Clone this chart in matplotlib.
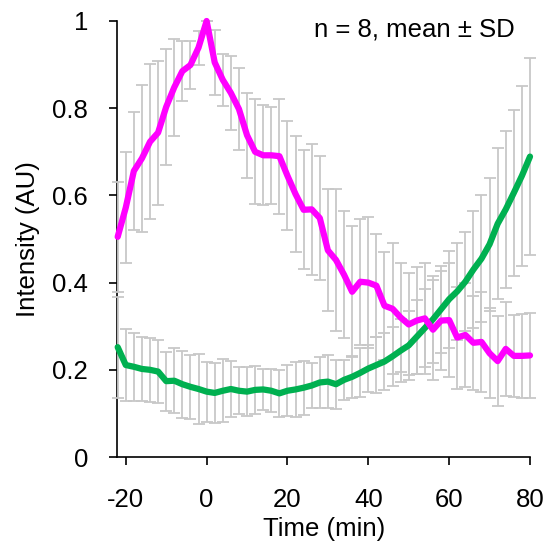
import numpy as np
import matplotlib
matplotlib.use("Agg")
import matplotlib.pyplot as plt

plt.rcParams['font.family'] = ['Liberation Sans', 'DejaVu Sans']
plt.rcParams['axes.unicode_minus'] = False

# time points (min), 2-min interval
time_min = list(range(-22, 82, 2))

# magenta series, mean and SD
magenta_mean = [0.505, 0.572, 0.656, 0.685, 0.723, 0.744, 0.803, 0.848, 0.885, 0.899,
                0.939, 1.000, 0.905, 0.865, 0.835, 0.798, 0.738, 0.700, 0.692, 0.692,
                0.690, 0.645, 0.603, 0.567, 0.568, 0.548, 0.474, 0.452, 0.418, 0.379,
                0.402, 0.400, 0.393, 0.347, 0.340, 0.320, 0.304, 0.313, 0.318, 0.292,
                0.313, 0.314, 0.274, 0.280, 0.262, 0.264, 0.238, 0.220, 0.248, 0.232,
                0.232, 0.233]
magenta_sd = [0.126, 0.128, 0.135, 0.168, 0.178, 0.165, 0.133, 0.111, 0.068, 0.054,
              0.039, 0.000, 0.075, 0.060, 0.085, 0.095, 0.097, 0.120, 0.115, 0.111,
              0.132, 0.125, 0.133, 0.136, 0.150, 0.143, 0.140, 0.162, 0.146, 0.150,
              0.145, 0.151, 0.118, 0.124, 0.150, 0.124, 0.117, 0.122, 0.128, 0.115,
              0.113, 0.130, 0.117, 0.119, 0.108, 0.114, 0.103, 0.103, 0.108, 0.094,
              0.097, 0.098]

# green series, mean and SD
green_mean = [0.252, 0.211, 0.207, 0.202, 0.200, 0.196, 0.174, 0.175, 0.167, 0.161,
              0.156, 0.150, 0.147, 0.152, 0.156, 0.152, 0.150, 0.154, 0.155, 0.152,
              0.146, 0.152, 0.155, 0.159, 0.164, 0.171, 0.173, 0.167, 0.177, 0.184,
              0.193, 0.203, 0.211, 0.219, 0.231, 0.244, 0.256, 0.276, 0.296, 0.316,
              0.339, 0.362, 0.380, 0.402, 0.430, 0.455, 0.488, 0.535, 0.568, 0.606,
              0.645, 0.689]
green_sd = [0.116, 0.083, 0.078, 0.074, 0.074, 0.072, 0.068, 0.074, 0.077, 0.073,
            0.080, 0.069, 0.069, 0.072, 0.065, 0.054, 0.057, 0.055, 0.046, 0.049,
            0.054, 0.059, 0.064, 0.062, 0.051, 0.059, 0.061, 0.056, 0.046, 0.048,
            0.056, 0.053, 0.065, 0.065, 0.068, 0.072, 0.080, 0.085, 0.090, 0.100,
            0.100, 0.111, 0.111, 0.113, 0.134, 0.146, 0.153, 0.173, 0.180, 0.190,
            0.207, 0.225]

x_ticks = [-20, 0, 20, 40, 60, 80]
y_ticks = [0, 0.2, 0.4, 0.6, 0.8, 1]
y_tick_labels = ['0', '0.2', '0.4', '0.6', '0.8', '1']

fig = plt.figure(figsize=(5.46, 5.48), dpi=100)
ax = fig.add_axes([0.2148, 0.166, 0.7559, 0.7957])

grey = '#c8c8c8'
for mean, sd in [(magenta_mean, magenta_sd), (green_mean, green_sd)]:
    eb = ax.errorbar(time_min, mean, yerr=sd, fmt='none', ecolor=grey,
                     elinewidth=1.3, capsize=4, capthick=1.3, zorder=3)
    for art in eb.lines[1]:
        art.set_clip_on(False)
    for art in eb.lines[2]:
        art.set_clip_on(False)

ax.plot(time_min, green_mean, color='#00b050', lw=4.5, zorder=4,
        solid_joinstyle='round', solid_capstyle='round', clip_on=False)
ax.plot(time_min, magenta_mean, color='#ff00ff', lw=4.5, zorder=5,
        solid_joinstyle='round', solid_capstyle='round', clip_on=False)

ax.set_xlim(-22.1, 80)
ax.set_ylim(0, 1)
ax.set_xticks(x_ticks)
ax.set_yticks(y_ticks)
ax.set_yticklabels(y_tick_labels)

for side in ['top', 'right']:
    ax.spines[side].set_visible(False)
for side in ['left', 'bottom']:
    ax.spines[side].set_linewidth(1.2)

ax.tick_params(axis='both', direction='out', length=6, width=1.2, labelsize=18.5)
ax.tick_params(axis='y', pad=15)
ax.tick_params(axis='x', pad=16)

ax.set_xlabel('Time (min)', fontsize=18.5, labelpad=4)
ax.set_ylabel('Intensity (AU)', fontsize=18.5, labelpad=9)

fig.text(515 / 546, 1 - 30 / 548, 'n = 8, mean \u00b1 SD', ha='right', va='center',
         fontsize=18.5)

plt.savefig('out.png', dpi=100)
